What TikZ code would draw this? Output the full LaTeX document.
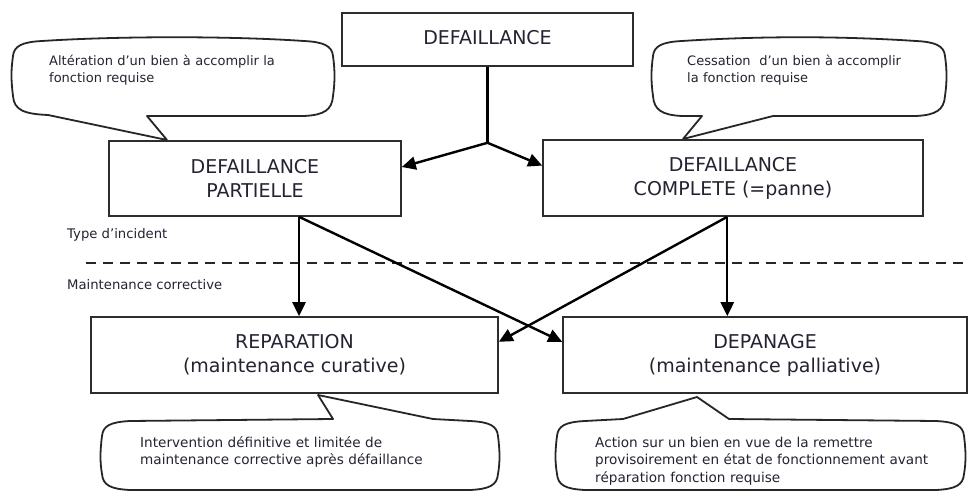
\documentclass[tikz,border=0pt]{standalone}
\usepackage{fontspec}
\usetikzlibrary{arrows.meta,calc}
\newfontfamily\diagfont{DejaVu Sans}
\newcommand\bxfont{\diagfont\fontsize{19}{24}\selectfont}
\newcommand\ntfont{\diagfont\fontsize{13}{17}\selectfont}
\newcommand\ntbfont{\diagfont\fontsize{13.6}{17.5}\selectfont}
\newcommand\lbfont{\diagfont\fontsize{13.2}{14}\selectfont}
\definecolor{inkcol}{RGB}{35,35,50}
\definecolor{edgecol}{RGB}{45,45,45}
\tikzset{
  boxnode/.style={draw=edgecol, line width=1.6pt, fill=white, inner sep=0pt,
                  align=center, font=\bxfont, text=inkcol},
  link/.style={line width=2.4pt, draw=black, -{Triangle[length=14pt,width=13pt]}},
  bubble/.style={draw=black!85, line width=1.8pt, fill=white, line join=round},
  note/.style={anchor=base west, align=left, inner sep=0pt, text width=420pt,
               font=\ntfont, text=inkcol},
  lownote/.style={note, font=\ntbfont},
  sidelabel/.style={anchor=base west, inner sep=0pt, font=\lbfont, text=inkcol},
  divider/.style={line width=1.8pt, dash pattern=on 10pt off 7pt, draw=black!85}
}
\begin{document}
\begin{tikzpicture}[x=1pt,y=-1pt]
  \useasboundingbox (0,0) rectangle (969,492);
  \fill[white] (0,0) rectangle (969,492);
  \clip (0,0) rectangle (969,492);

  % speech bubbles (drawn first, boxes sit on top of the pointers)
  \draw[bubble] (147,116) -- (167,140) -- (48,115)
    .. controls (24,114) and (14,110) .. (13,96)
    .. controls (11,80) and (11,70) .. (13,56)
    .. controls (14,46) and (22,42) .. (42,41)
    .. controls (120,36) and (230,36) .. (304,41)
    .. controls (324,42) and (332,46) .. (333,56)
    .. controls (335,70) and (335,82) .. (333,96)
    .. controls (332,110) and (324,115) .. (304,116)
    -- cycle;
  \draw[bubble] (702,116) -- (683,139) -- (773,116) -- (916,116)
    .. controls (936,115) and (944,110) .. (945,96)
    .. controls (947,82) and (947,70) .. (945,56)
    .. controls (944,46) and (936,42) .. (916,41)
    .. controls (840,36) and (760,36) .. (682,41)
    .. controls (662,42) and (654,46) .. (653,56)
    .. controls (651,70) and (651,82) .. (653,96)
    .. controls (654,110) and (662,115) .. (682,116)
    -- cycle;
  \draw[bubble] (333,419) -- (318,395) -- (433,419) -- (470,421)
    .. controls (490,422) and (497,426) .. (498,436)
    .. controls (500,452) and (500,462) .. (498,474)
    .. controls (497,485) and (490,489) .. (470,490)
    -- (130,490)
    .. controls (110,489) and (103,485) .. (102,474)
    .. controls (100,462) and (100,452) .. (102,436)
    .. controls (103,426) and (110,422) .. (130,421)
    -- cycle;
  \draw[bubble] (729,419) -- (697,397) -- (623,419) -- (585,421)
    .. controls (565,422) and (558,426) .. (557,436)
    .. controls (555,452) and (555,462) .. (557,474)
    .. controls (558,485) and (565,489) .. (585,490)
    -- (936,490)
    .. controls (956,489) and (963,485) .. (964,474)
    .. controls (966,462) and (966,452) .. (964,436)
    .. controls (963,426) and (956,422) .. (936,421)
    -- cycle;

  % bubble texts
  \node[note] (altnote) at (49,66) {Altération d’un bien à accomplir la\\fonction requise};
  \node[note] (cessnote) at (687,66) {Cessation\ \ d’un bien à accomplir\\la fonction requise};
  \node[lownote] (repnote) at (140,447) {Intervention définitive et limitée de\\maintenance corrective après défaillance};
  \node[lownote] (depnote) at (595,447) {Action sur un bien en vue de la remettre\\provisoirement en état de fonctionnement avant\\réparation fonction requise};

  % boxes
  \node[boxnode, minimum width=291pt, minimum height=53pt, text depth=5pt] (top) at (487.5,39.5) {DEFAILLANCE};
  \node[boxnode, minimum width=292pt, minimum height=75pt] (partial) at (255,178.5) {DEFAILLANCE\\PARTIELLE};
  \node[boxnode, minimum width=380pt, minimum height=76pt] (complete) at (733,178) {DEFAILLANCE\\COMPLETE (=panne)};
  \node[boxnode, minimum width=407pt, minimum height=76pt] (repar) at (294.5,355) {REPARATION\\(maintenance curative)};
  \node[boxnode, minimum width=404pt, minimum height=76pt] (depan) at (765,355) {DEPANAGE\\(maintenance palliative)};

  % side labels and divider
  \node[sidelabel] (typelbl) at (67,238) {Type d’incident};
  \node[sidelabel] (mainlbl) at (67,289) {Maintenance corrective};
  \coordinate (divL) at (86,263);
  \coordinate (divR) at (969,263);
  \draw[divider] (divL) -- (divR);

  % connectors
  \coordinate (fork) at ($(top.south)+(0,76)$);
  \draw[line width=2.4pt] (top.south) -- (fork);
  \draw[link] (fork) -- ($(partial.north east)!0.35!(partial.south east)$);
  \draw[link] (fork) -- ($(complete.north west)!0.34!(complete.south west)$);

  \coordinate (pOut) at ($(partial.south west)!0.65!(partial.south east)$);
  \coordinate (cOut) at ($(complete.south west)!0.485!(complete.south east)$);
  \draw[link] (pOut) -- (pOut |- repar.north);
  \draw[link] (pOut) -- ($(depan.north west)!0.33!(depan.south west)$);
  \draw[link] (cOut) -- (cOut |- depan.north);
  \draw[link] (cOut) -- ($(repar.north east)!0.33!(repar.south east)$);
\end{tikzpicture}
\end{document}
